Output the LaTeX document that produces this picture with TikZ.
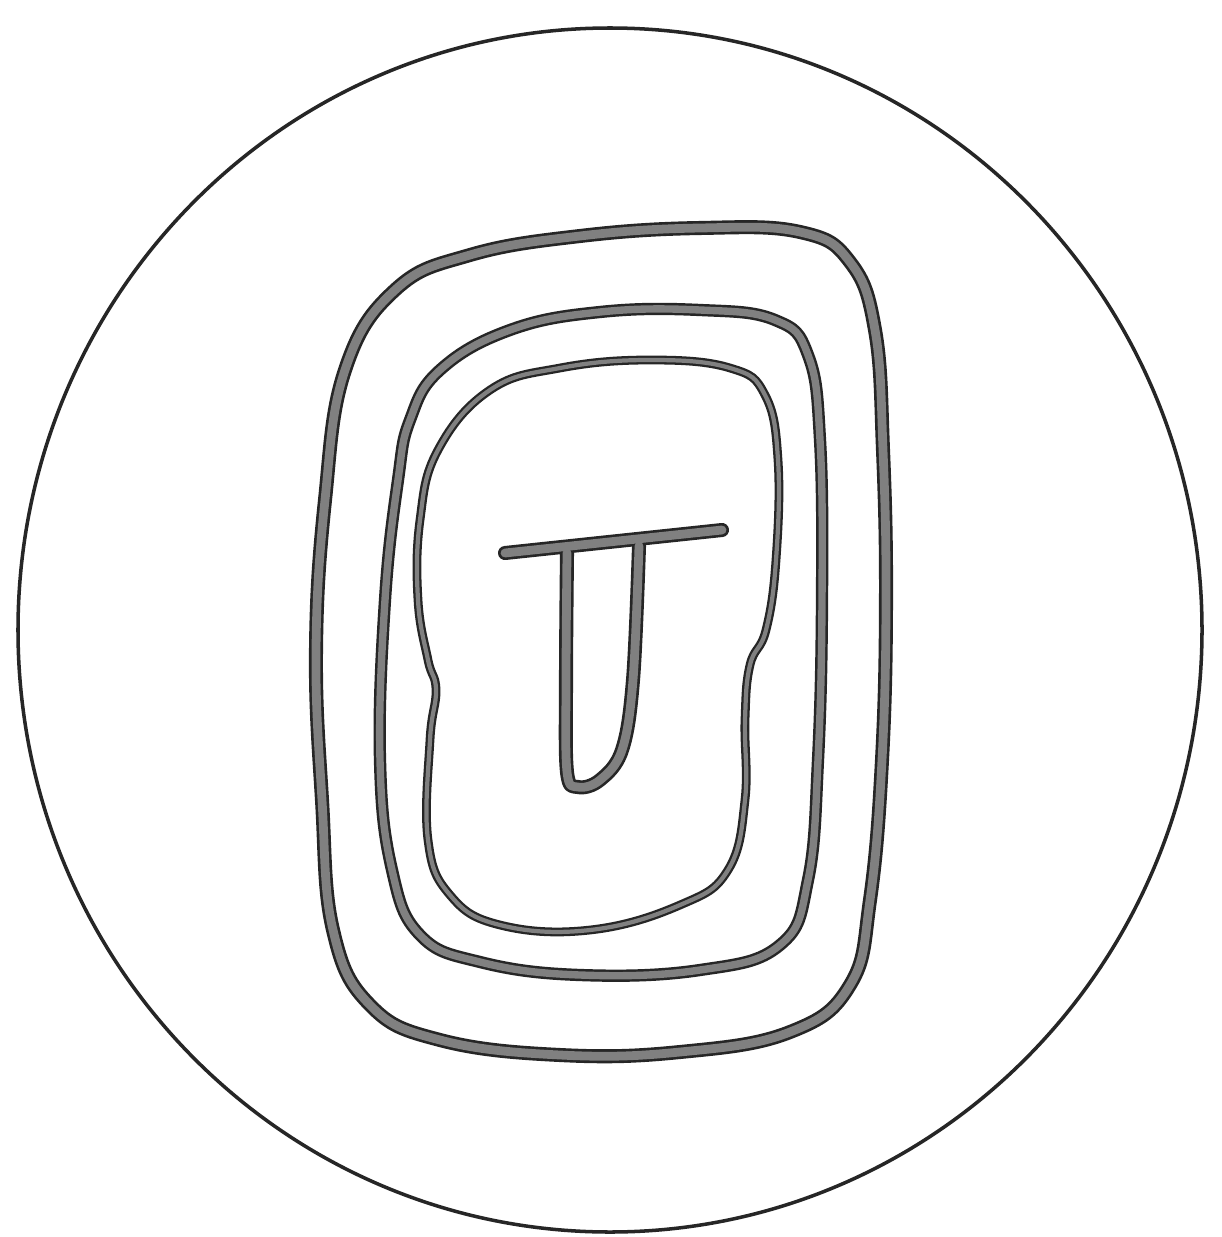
\documentclass[tikz,border=0pt]{standalone}
\usepackage{tikz}

\tikzset{
  rim/.style={black!85,line width=2pt},
  edge/.style={black!85,line width=#1,line cap=round,line join=round},
  core/.style={black!50,line width=#1,line cap=round,line join=round}
}

% each band is drawn twice: dark edge first, grey core on top
\newcommand{\outerring}[1]{%
  \draw[#1] plot[smooth cycle,tension=0.7] coordinates {
    (395,290) (470,255) (580,236) (700,228) (800,232) (850,262) (875,330)
    (883,450) (886,600) (882,760) (870,900) (850,985) (790,1032) (680,1052)
    (560,1055) (440,1040) (370,1005) (333,930) (322,800) (316,650) (325,500)
    (345,370)};}
\newcommand{\middlering}[1]{%
  \draw[#1] plot[smooth cycle,tension=0.7] coordinates {
    (440,370) (510,330) (600,312) (700,310) (775,320) (808,355) (820,440)
    (822,600) (818,760) (808,880) (780,945) (700,970) (580,975) (480,962)
    (420,935) (392,870) (380,760) (385,600) (398,480) (410,420)};}
\newcommand{\innerring}[1]{%
  \draw[#1] plot[smooth cycle,tension=0.7] coordinates {
    (490,390) (560,368) (650,360) (730,368) (765,395) (778,460) (776,560)
    (766,630) (750,665) (745,720) (745,800) (728,870) (680,905) (590,930)
    (500,925) (450,895) (428,840) (430,740) (436,690) (428,660) (418,600)
    (420,520) (438,450)};}
% stem first, bar last so the bar's core hides the stem's top
\newcommand{\tglyph}[1]{%
  \draw[#1] plot[smooth,tension=0.6] coordinates {
    (567,553) (566,680) (567,772) (578,787) (600,780) (622,750) (633,680)
    (639,546)};
  \draw[#1] (505,553) -- (722,530);}

\begin{document}
\begin{tikzpicture}[x=0.02cm,y=-0.02cm]
  \useasboundingbox (0,0) rectangle (1222,1237);
  \fill[white] (0,0) rectangle (1222,1237);

  \draw[rim] (610,630) ellipse (592 and 602);

  \outerring{edge=8pt}
  \outerring{core=5pt}
  \middlering{edge=7pt}
  \middlering{core=4.2pt}
  \innerring{edge=5pt}
  \innerring{core=2.4pt}
  \tglyph{edge=8pt}
  \tglyph{core=5pt}
\end{tikzpicture}
\end{document}
